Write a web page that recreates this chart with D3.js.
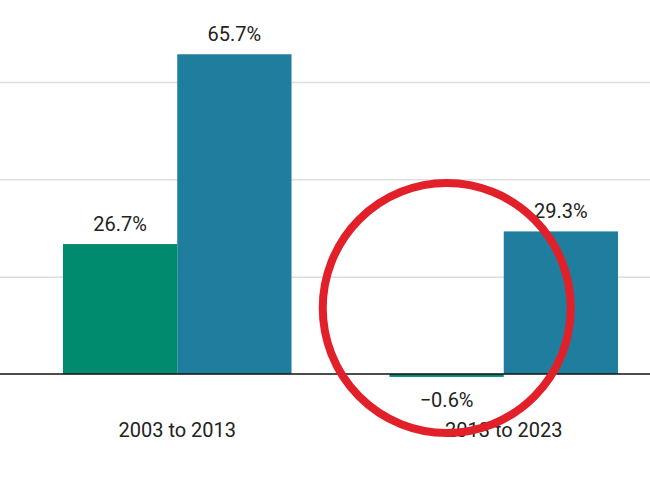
<!DOCTYPE html>
<html>
<head>
<meta charset="utf-8">
<script src="https://cdn.jsdelivr.net/npm/d3@7"></script>
<style>
  html, body { margin: 0; padding: 0; background: #fff; }
  svg { display: block; }
  text { font-family: Roboto, "Noto Sans", sans-serif; }
</style>
</head>
<body>
<svg id="chart" width="650" height="488"></svg>
<script>
const categories = ["2003 to 2013", "2013 to 2023"];
const seriesNames = ["Series A", "Series B"];
const seriesA = [26.7, -0.6];
const seriesB = [65.7, 29.3];
const gridTicks = [20, 40, 60];
const seriesColors = ["#008b6f", "#1f7e9e"];

const width = 650, height = 488;
const svg = d3.select("#chart");

const y = d3.scaleLinear().domain([0, 60]).range([374, 82]);
const x0 = d3.scaleBand().domain(categories).range([14, 667])
  .paddingInner(0.3).paddingOuter(0.15);
const x1 = d3.scaleBand().domain(seriesNames).range([0, x0.bandwidth()]);
const color = d3.scaleOrdinal().domain(seriesNames).range(seriesColors);

// gridlines
const yAxis = d3.axisLeft(y).tickValues(gridTicks).tickSize(-width).tickFormat("");
const gAxis = svg.append("g").attr("transform", `translate(${width},0)`)
  .attr("transform", "translate(0,0)")
  .call(d3.axisRight(y).tickValues(gridTicks).tickSize(width).tickFormat(""));
gAxis.select(".domain").remove();
gAxis.selectAll(".tick line").attr("stroke", "#dedede").attr("stroke-width", 1.5);

const data = categories.map((c, i) => ({
  cat: c,
  values: [
    { key: seriesNames[0], value: seriesA[i] },
    { key: seriesNames[1], value: seriesB[i] }
  ]
}));

const groups = svg.append("g").selectAll("g").data(data).join("g")
  .attr("transform", d => `translate(${x0(d.cat)},0)`);

groups.selectAll("rect").data(d => d.values).join("rect")
  .attr("x", d => x1(d.key))
  .attr("width", x1.bandwidth())
  .attr("y", d => y(Math.max(0, d.value)))
  .attr("height", d => Math.abs(y(d.value) - y(0)))
  .attr("fill", d => color(d.key));

const fmt = v => (v < 0 ? "\u2212" + Math.abs(v).toFixed(1) : v.toFixed(1)) + "%";

groups.selectAll("text.val").data(d => d.values).join("text")
  .attr("class", "val")
  .attr("x", d => x1(d.key) + x1.bandwidth() / 2)
  .attr("y", d => d.value >= 0 ? y(d.value) - 13 : y(d.value) + 30)
  .attr("text-anchor", "middle")
  .attr("font-size", 20)
  .attr("fill", "#222")
  .text(d => fmt(d.value));

// baseline
svg.append("line")
  .attr("x1", 0).attr("x2", width)
  .attr("y1", y(0)).attr("y2", y(0))
  .attr("stroke", "#111").attr("stroke-width", 1.5);

// category labels
const xAxis = svg.append("g").attr("transform", `translate(0,${y(0)})`)
  .call(d3.axisBottom(x0).tickSize(0).tickPadding(0));
xAxis.select(".domain").remove();
xAxis.selectAll("text")
  .attr("font-family", "Roboto, 'Noto Sans', sans-serif")
  .attr("font-size", 20)
  .attr("fill", "#222")
  .attr("dy", 0)
  .attr("y", 63);

// red annotation circle
const cx = x0(categories[1]) + x0.bandwidth() / 2 - 57;
svg.append("ellipse")
  .attr("cx", cx)
  .attr("cy", 308)
  .attr("rx", 124)
  .attr("ry", 125)
  .attr("fill", "none")
  .attr("stroke", "#e2202a")
  .attr("stroke-width", 8);
</script>
</body>
</html>
